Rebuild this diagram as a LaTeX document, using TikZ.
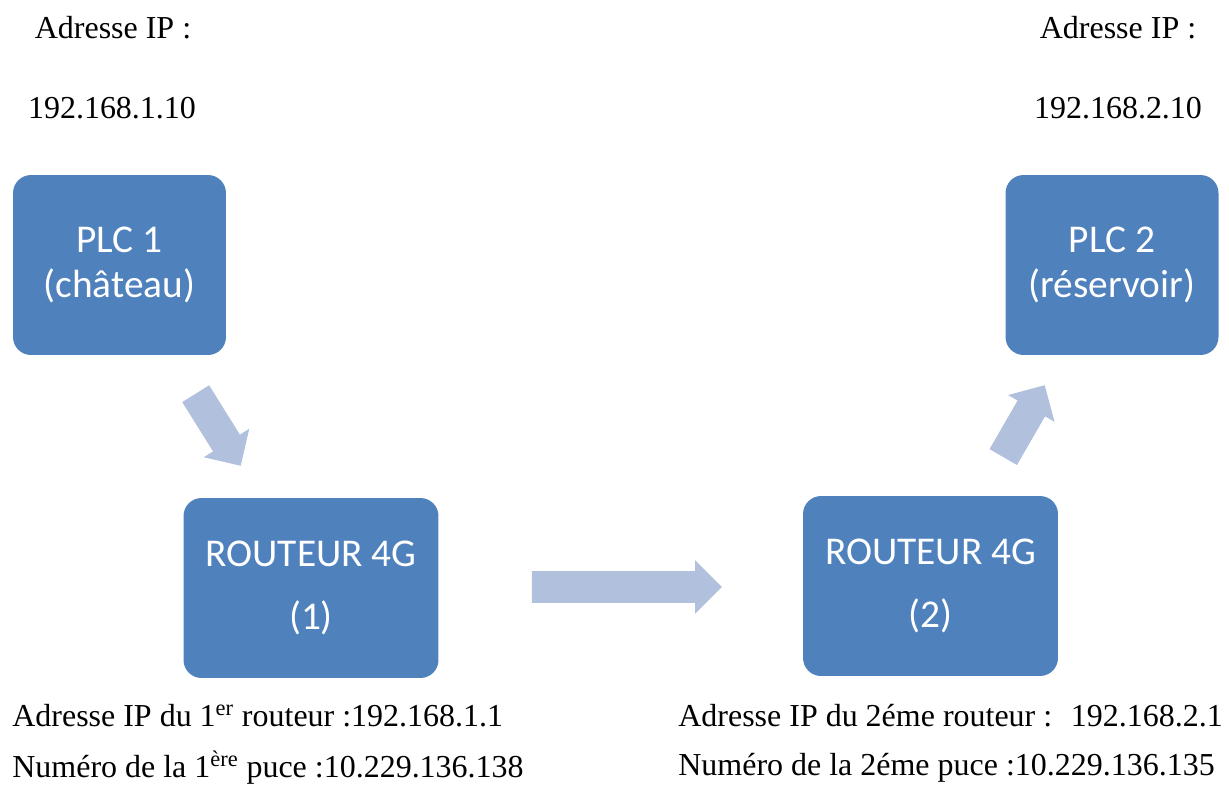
\documentclass[tikz,border=0pt]{standalone}
\usepackage{fontspec}
\setmainfont{Liberation Serif}
\newfontfamily\boxfont{Carlito}
\usetikzlibrary{shapes.arrows}
\definecolor{boxblue}{RGB}{79,129,189}
\definecolor{arrowblue}{RGB}{177,193,221}
\tikzset{
	plcbox/.style={fill=boxblue, rounded corners=0.36cm, text=white, align=center,
		font=\boxfont\fontsize{22.4}{25.6}\selectfont,
		minimum width=4.26cm, minimum height=3.6cm, inner sep=0},
	routerbox/.style={plcbox, minimum width=5.1cm},
	blockarrow/.style={single arrow, fill=arrowblue, inner xsep=0, inner ysep=0.31cm,
		single arrow head extend=0.22cm, single arrow tip angle=90},
	iptext/.style={font=\fontsize{18.2}{20}\selectfont, inner sep=0}
}

\begin{document}
\begin{tikzpicture}[x=0.02cm,y=-0.02cm]
		\useasboundingbox (0,0) rectangle (1229,785);
		\node (plcone) [plcbox] at (119.5,265) {PLC 1\\(château)};
		\node (plctwo) [plcbox] at (1112,265) {PLC 2\\(réservoir)};
		\node (routone) [routerbox] at (311,588) {ROUTEUR 4G\\[0.37cm](1)};
		\node (routtwo) [routerbox] at (930.5,586) {ROUTEUR 4G\\[0.37cm](2)};
		%
		\node (arrone) [blockarrow, minimum height=1.7cm, rotate=-58] at (214,423) {};
		\node (arrmid) [blockarrow, minimum height=3.8cm] at (619,587) {};
		\node (arrtwo) [blockarrow, minimum height=1.66cm, rotate=60] at (1020,428) {};
		%
		\node (ipone) [iptext] at (113,28) {Adresse IP :};
		\node (addrone) [iptext] at (112,108) {192.168.1.10};
		\node (iptwo) [iptext] at (1118,28) {Adresse IP :};
		\node (addrtwo) [iptext] at (1118,108) {192.168.2.10};
		%
		\node (routipone) [iptext, anchor=west] at (12,716) {Adresse IP du 1\textsuperscript{er} routeur :192.168.1.1};
		\node (puceone) [iptext, anchor=west] at (12,768) {Numéro de la 1\textsuperscript{ère} puce :10.229.136.138};
		\node (routiptwo) [iptext, anchor=west] at (678,716) {Adresse IP du 2éme routeur : \ 192.168.2.1};
		\node (pucetwo) [iptext, anchor=west] at (678,768) {Numéro de la 2éme puce :10.229.136.135};
	\end{tikzpicture}
\end{document}
